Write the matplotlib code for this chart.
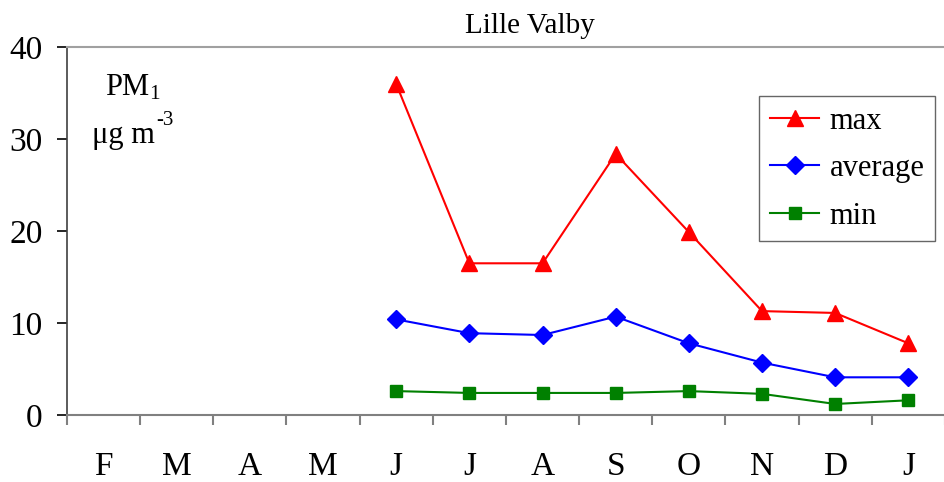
import numpy as np
import matplotlib.pyplot as plt

plt.rcParams['font.family'] = ['Liberation Serif', 'DejaVu Serif']
plt.rcParams['mathtext.fontset'] = 'custom'
plt.rcParams['mathtext.rm'] = 'Liberation Serif'
plt.rcParams['mathtext.it'] = 'Liberation Serif:italic'

months = ["F", "M", "A", "M", "J", "J", "A", "S", "O", "N", "D", "J"]
# data only from June onwards
start = 4
pm_max = [36.0, 16.5, 16.5, 28.4, 19.9, 11.3, 11.1, 7.8]
pm_avg = [10.4, 8.9, 8.7, 10.7, 7.8, 5.7, 4.1, 4.1]
pm_min = [2.6, 2.4, 2.4, 2.4, 2.6, 2.3, 1.2, 1.6]

fig = plt.figure(figsize=(9.45, 4.82), dpi=100)
ax = fig.add_axes([0.0709, 0.139, 0.929, 0.763])

x = np.arange(start, start + len(pm_max)) + 0.5
ax.plot(x, pm_max, color='#ff0000', marker='^', markersize=12, linewidth=1.5, label='max')
ax.plot(x, pm_avg, color='#0000ff', marker='D', markersize=9, linewidth=1.5, label='average')
ax.plot(x, pm_min, color='#008000', marker='s', markersize=9, linewidth=1.5, label='min')

ax.set_xlim(0, 12)
ax.set_ylim(0, 40)
ax.set_yticks([0, 10, 20, 30, 40])
ax.set_xticks(np.arange(0, 13))
ax.set_xticklabels([])
ax.set_xticks(np.arange(12) + 0.5, minor=True)
ax.set_xticklabels(months, minor=True)
ax.tick_params(axis='x', which='minor', length=0, pad=26, labelsize=24)
ax.tick_params(axis='x', which='major', length=7, color='#808080', width=1.5)
ax.tick_params(axis='y', length=7.5, width=1.2, labelsize=24, pad=10)

ax.spines['right'].set_visible(False)
ax.spines['top'].set_color('#a0a0a0')
ax.spines['top'].set_linewidth(1.5)
ax.spines['bottom'].set_color('#808080')
ax.spines['bottom'].set_linewidth(1.5)
ax.spines['left'].set_color('#404040')
ax.spines['left'].set_linewidth(1.2)

ax.set_title('Lille Valby', fontsize=21, pad=10, x=0.527)
ax.text(0.52, 34.8, r'PM$_\mathregular{1}$', fontsize=22, ha='left', va='baseline')
ax.text(1.20, 29.6, 'μg m', fontsize=22, ha='right', va='baseline')
ax.text(1.22, 31.5, '-3', fontsize=15, ha='left', va='baseline')

leg = ax.legend(loc='upper right', bbox_to_anchor=(0.989, 0.867), fontsize=22,
                frameon=True, fancybox=False, edgecolor='#404040',
                handlelength=1.6, handletextpad=0.35, labelspacing=0.6,
                borderpad=0.35, borderaxespad=0)
leg.get_frame().set_linewidth(1.0)

fig.savefig('out.png', dpi=100)
